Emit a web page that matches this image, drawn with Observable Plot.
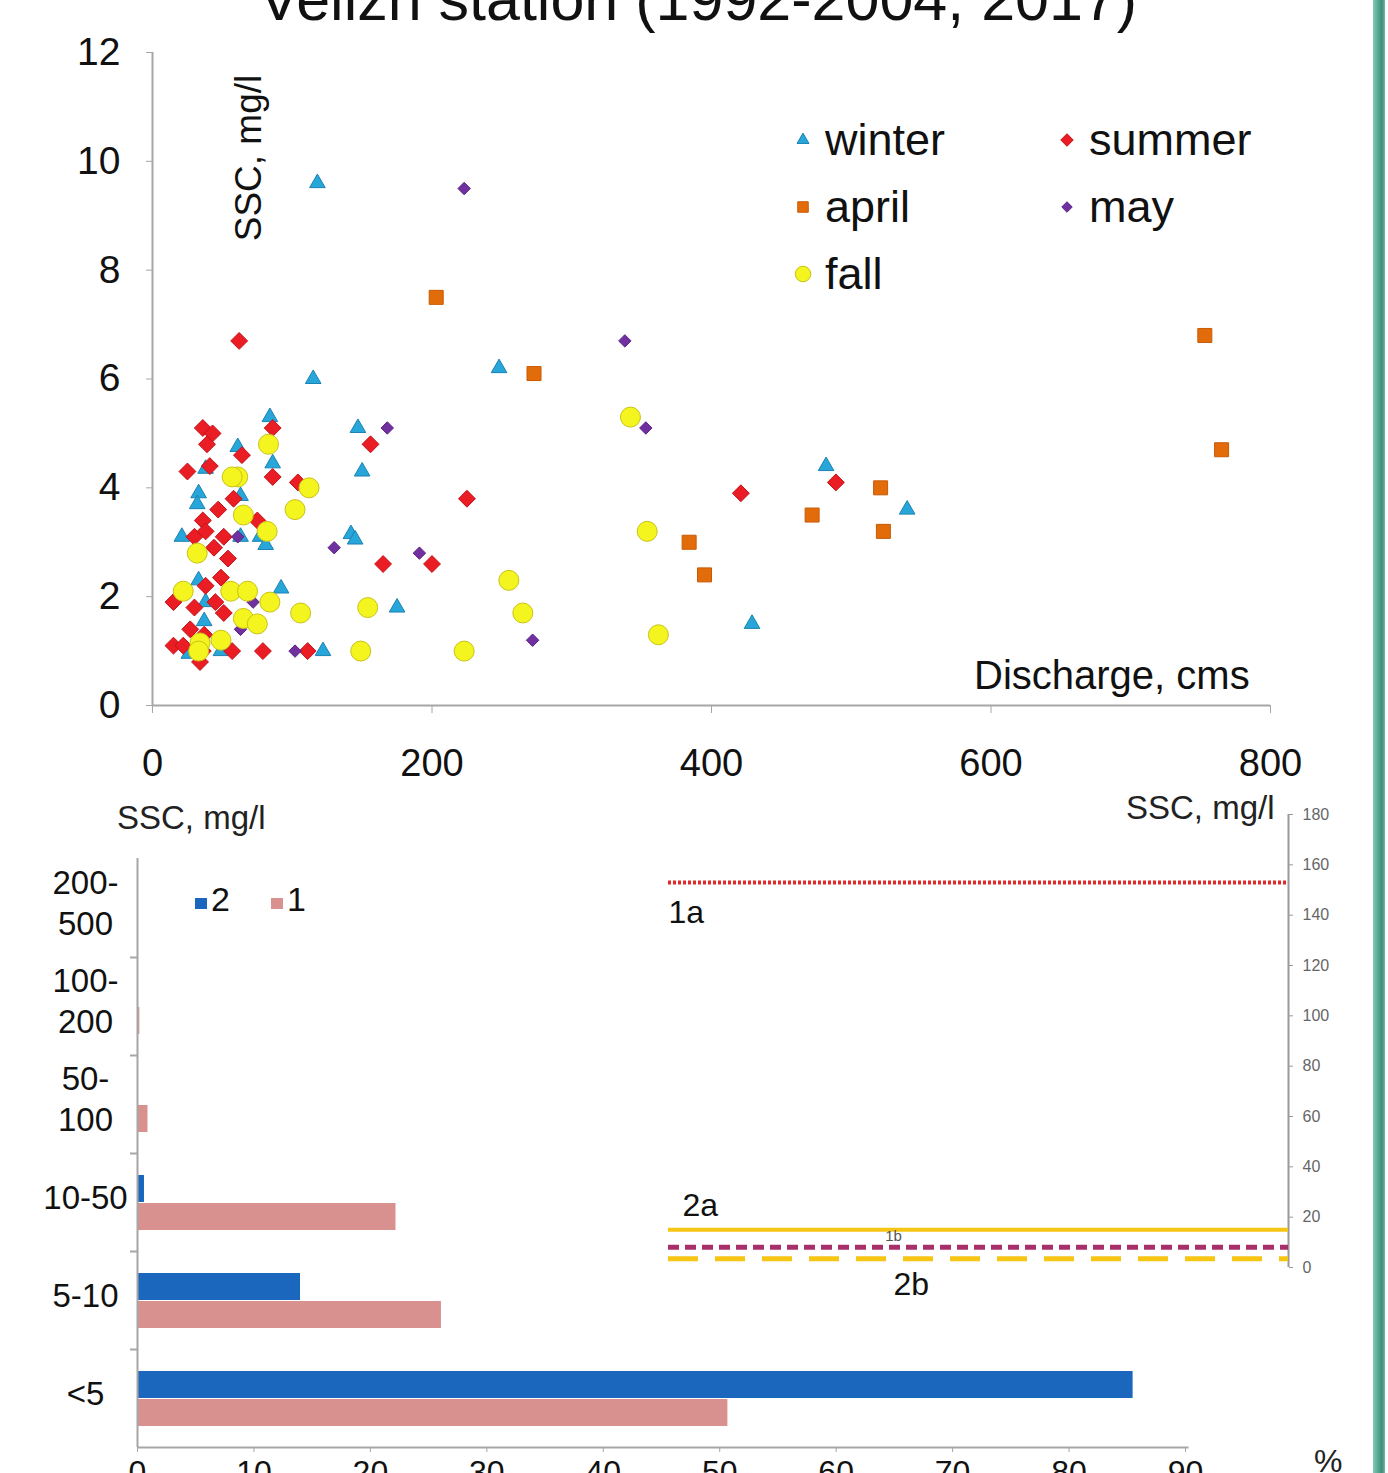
<!DOCTYPE html>
<html><head><meta charset="utf-8">
<script src="https://cdn.jsdelivr.net/npm/d3@7"></script>
<script src="https://cdn.jsdelivr.net/npm/@observablehq/plot@0.6"></script>
<style>
html,body{margin:0;padding:0;background:#fff;}
body{width:1388px;height:1473px;overflow:hidden;position:relative;font-family:"Liberation Sans",Arial,sans-serif;color:#111;}
.abs{position:absolute;white-space:nowrap;}
svg{overflow:visible;}
</style></head><body>
<script>
// ---------- DATA ----------
// Scatter: [discharge (cms), SSC (mg/l)]
const winter = [[118,9.6],[115,6.0],[248,6.2],[84,5.3],[147,5.1],[150,4.3],[86,4.45],[61,4.75],[38,4.35],[33,3.9],[32,3.7],[63,3.85],[21,3.1],[63,3.1],[77,3.1],[81,2.95],[142,3.15],[145,3.05],[92,2.15],[33,2.3],[38,1.9],[37,1.55],[175,1.8],[122,1.0],[49,1.0],[26,0.95],[482,4.4],[540,3.6],[429,1.5]];
const summer = [[62,6.7],[36,5.1],[43,5.0],[39,4.8],[86,5.1],[64,4.6],[25,4.3],[41,4.4],[86,4.2],[104,4.1],[156,4.8],[58,3.8],[47,3.6],[36,3.4],[75,3.4],[30,3.1],[38,3.2],[51,3.1],[44,2.9],[54,2.7],[165,2.6],[200,2.6],[49,2.35],[38,2.2],[15,1.9],[30,1.8],[45,1.9],[51,1.7],[27,1.4],[37,1.3],[15,1.1],[22,1.1],[34,0.8],[57,1.0],[79,1.0],[111,1.0],[36,1.0],[225,3.8],[421,3.9],[489,4.1]];
const april = [[203,7.5],[273,6.1],[753,6.8],[765,4.7],[521,4.0],[472,3.5],[523,3.2],[384,3.0],[395,2.4]];
const may = [[223,9.5],[338,6.7],[353,5.1],[168,5.1],[130,2.9],[191,2.8],[272,1.2],[102,1.0],[61,3.1],[72,1.9],[63,1.4]];
const fall = [[83,4.8],[61,4.2],[57,4.2],[112,4.0],[102,3.6],[65,3.5],[82,3.2],[32,2.8],[22,2.1],[56,2.1],[68,2.1],[84,1.9],[106,1.7],[154,1.8],[65,1.6],[75,1.5],[49,1.2],[34,1.15],[33,1.0],[149,1.0],[342,5.3],[354,3.2],[255,2.3],[265,1.7],[362,1.3],[223,1.0]];
const scatterXTicks = [0,200,400,600,800];
const scatterYTicks = [0,2,4,6,8,10,12];

// Bars: share of samples (%) per SSC class
const sscClasses = ["200-500","100-200","50-100","10-50","5-10","<5"];
const sscClassLabels = ["200-\n500","100-\n200","50-\n100","10-50","5-10","<5"];
const series2 = [0,0,0,0.6,14.0,85.5];
const series1 = [0,0.2,0.9,22.2,26.1,50.7];
const barXTicks = [0,10,20,30,40,50,60,70,80,90];

// Threshold lines (SSC, mg/l)
const lineNames = ["1a","1b","2a","2b"];
const lineValues = [153,8,15,3.5];
const rightTicks = [0,20,40,60,80,100,120,140,160,180];

// ---------- STYLES ----------
const seasons = [
  {name:"winter", data:winter, symbol:"triangle", r:5.8, fill:"#27a6d9", stroke:"#1c82b3"},
  {name:"summer", data:summer, symbol:"diamond2", r:7.6, fill:"#ea1c24", stroke:"#c4121a"},
  {name:"april", data:april, symbol:"square", r:7.9, fill:"#e36c0a", stroke:"#c85a05"},
  {name:"may", data:may, symbol:"diamond2", r:5.6, fill:"#7030a0", stroke:"#5a2385"},
  {name:"fall", data:fall, symbol:"circle", r:10, fill:"#f4f41e", stroke:"#c9c31a"}
];
const FONT = "Liberation Sans, Arial, sans-serif";
const svgStyle = {background:"transparent", overflow:"visible", fontFamily:FONT, color:"#111"};

function addAbs(el, css){ el.classList.add("abs"); Object.assign(el.style, css); document.body.appendChild(el); return el; }
function addText(txt, css){ const d=document.createElement("div"); d.textContent=txt; return addAbs(d, css); }

// ---------- TITLE ----------
addText("Velizh station (1992-2004, 2017)", {left:"0px", width:"1396px", top:"-31px", textAlign:"center", fontSize:"61px", lineHeight:"61px"});

// ---------- SCATTER ----------
const rows = seasons.flatMap(s => s.data.map(([q,ssc]) => ({season:s.name, q, ssc})));
const scatter = Plot.plot({
  width:1388, height:800,
  marginLeft:152, marginRight:118, marginTop:52, marginBottom:95,
  style:svgStyle,
  x:{domain:[0,800]},
  y:{domain:[0,12]},
  marks:[
    Plot.axisY({ticks:scatterYTicks, tickSize:6, tickPadding:26, fontSize:39, stroke:"#a6a6a6", fill:"#111", label:null}),
    Plot.axisX({ticks:scatterXTicks, tickSize:8, tickPadding:36, fontSize:38, stroke:"#a6a6a6", fill:"#111", label:null}),
    Plot.ruleX([0], {y1:0, y2:12, stroke:"#a6a6a6", strokeWidth:2}),
    Plot.ruleY([0], {x1:0, x2:800, stroke:"#a6a6a6", strokeWidth:2}),
    ...seasons.map(s => Plot.dot(rows.filter(d => d.season === s.name), {x:"q", y:"ssc", symbol:s.symbol, r:s.r, fill:s.fill, stroke:s.stroke, strokeWidth:1}))
  ]
});
addAbs(scatter, {left:"0px", top:"0px"});

// axis titles
addText("SSC, mg/l", {left:"248px", top:"158px", fontSize:"37px", lineHeight:"37px", transform:"translate(-50%,-50%) rotate(-90deg)"});
addText("Discharge, cms", {left:"974px", top:"654px", fontSize:"40px", lineHeight:"42px"});

// legend
const legendItems = [
  {s:seasons[0], x:803, y:140}, {s:seasons[1], x:1067, y:140},
  {s:seasons[2], x:803, y:207}, {s:seasons[3], x:1067, y:207},
  {s:seasons[4], x:803, y:274}
];
const symSize = {triangle:62, diamond2:100, square:110, circle:190};
const symType = {triangle:d3.symbolTriangle, diamond2:d3.symbolDiamond2, square:d3.symbolSquare, circle:d3.symbolCircle};
for (const it of legendItems) {
  const sv = d3.create("svg").attr("width",24).attr("height",24);
  const sz = it.s.name === "may" ? 70 : symSize[it.s.symbol];
  sv.append("path").attr("transform","translate(12,12)")
    .attr("d", d3.symbol(symType[it.s.symbol], sz)())
    .attr("fill", it.s.fill).attr("stroke", it.s.stroke).attr("stroke-width",1);
  addAbs(sv.node(), {left:(it.x-12)+"px", top:(it.y-12)+"px"});
  addText(it.s.name, {left:(it.x+22)+"px", top:(it.y-26)+"px", fontSize:"45px", lineHeight:"52px"});
}

// ---------- BAR CHART ----------
const barRows = sscClasses.flatMap((c,i) => [{cls:c, series:"2", v:series2[i]}, {cls:c, series:"1", v:series1[i]}]);
const labelOf = Object.fromEntries(sscClasses.map((c,i) => [c, sscClassLabels[i]]));
const bars = Plot.plot({
  width:1388, height:693,
  marginLeft:137, marginRight:203, marginTop:78, marginBottom:26,
  style:svgStyle,
  x:{domain:[0,90]},
  y:{domain:sscClasses, padding:0},
  marks:[
    Plot.barX(barRows.filter(d => d.series === "2"), {y:"cls", x:"v", fill:"#1a67bd", insetTop:22, insetBottom:49}),
    Plot.barX(barRows.filter(d => d.series === "1"), {y:"cls", x:"v", fill:"#d8918f", insetTop:50, insetBottom:21}),
    Plot.axisY({tickSize:0, tickPadding:52, textAnchor:"middle", dy:-7, fontSize:33, lineHeight:1.24, fill:"#111", tickFormat:c => labelOf[c], label:null}),
    Plot.axisX({ticks:barXTicks, tickSize:5, tickPadding:8, fontSize:32, stroke:"#a6a6a6", fill:"#111", label:null}),
    Plot.ruleY(sscClasses.slice(1), {y:d => d, x1:-0.6, x2:0, dy:-49, stroke:"#a6a6a6", strokeWidth:2}),
    Plot.ruleX([0], {stroke:"#a6a6a6", strokeWidth:2}),
    Plot.ruleY([sscClasses[sscClasses.length-1]], {x1:0, x2:90.3, dy:49, stroke:"#a6a6a6", strokeWidth:2})
  ]
});
addAbs(bars, {left:"0px", top:"780px"});
addText("SSC, mg/l", {left:"117px", top:"800px", fontSize:"33px", lineHeight:"36px", color:"#222"});
addText("%", {left:"1314px", top:"1443px", fontSize:"32px", lineHeight:"36px", color:"#222"});
// bar legend
[["2","#1a67bd",201],["1","#d8918f",277]].forEach(([t,c,x]) => {
  const d=document.createElement("div");
  addAbs(d, {left:(x-6)+"px", top:"898px", width:"12px", height:"11px", background:c});
  addText(t, {left:(x+10)+"px", top:"881px", fontSize:"34px", lineHeight:"36px"});
});

// ---------- THRESHOLD LINES OVERLAY ----------
const lines = lineNames.map((n,i) => ({name:n, v:lineValues[i]}));
const L = n => lines.filter(d => d.name === n);
const overlay = Plot.plot({
  width:1388, height:520,
  marginLeft:668, marginRight:100, marginTop:34, marginBottom:33,
  style:svgStyle,
  x:{domain:[0,1], axis:null},
  y:{domain:[0,180]},
  marks:[
    Plot.axisY({anchor:"right", ticks:rightTicks, tickSize:4, tickPadding:10, fontSize:16, fill:"#666", stroke:"#999", fontFamily:"Liberation Sans Narrow, Arial Narrow, sans-serif", label:null}),
    Plot.ruleX([1], {y1:0, y2:180, stroke:"#9a9a9a", strokeWidth:2}),
    Plot.ruleY(L("1a"), {y:"v", x1:0, x2:1, stroke:"#e02a2a", strokeWidth:4, strokeDasharray:"3,2"}),
    Plot.ruleY(L("2a"), {y:"v", x1:0, x2:1, stroke:"#f7c514", strokeWidth:4}),
    Plot.ruleY(L("1b"), {y:"v", x1:0, x2:1, stroke:"#a8306a", strokeWidth:5, strokeDasharray:"11,6"}),
    Plot.ruleY(L("2b"), {y:"v", x1:0, x2:1, stroke:"#f7c514", strokeWidth:5, strokeDasharray:"30,17"}),
    Plot.text(L("1a"), {x:0, y:"v", text:"name", textAnchor:"start", dy:30, fontSize:32, fill:"#111"}),
    Plot.text(L("2a"), {x:0, y:"v", text:"name", textAnchor:"start", dx:14, dy:-24, fontSize:32, fill:"#111"}),
    Plot.text(L("1b"), {x:0, y:"v", text:"name", textAnchor:"middle", dx:225, dy:-11, fontSize:15, fill:"#555"}),
    Plot.text(L("2b"), {x:0, y:"v", text:"name", textAnchor:"start", dx:225, dy:26, fontSize:32, fill:"#111"})
  ]
});
addAbs(overlay, {left:"0px", top:"780px"});
addText("SSC, mg/l", {left:"1126px", top:"790px", fontSize:"33px", lineHeight:"36px", color:"#222"});

// ---------- RIGHT GREEN BORDER ----------
addAbs(document.createElement("div"), {left:"1373px", top:"0px", width:"12px", height:"1473px",
  background:"linear-gradient(to right,#86c9b8 0%,#5cae99 35%,#3f8b78 75%,#72bba8 100%)"});
</script>
</body></html>
